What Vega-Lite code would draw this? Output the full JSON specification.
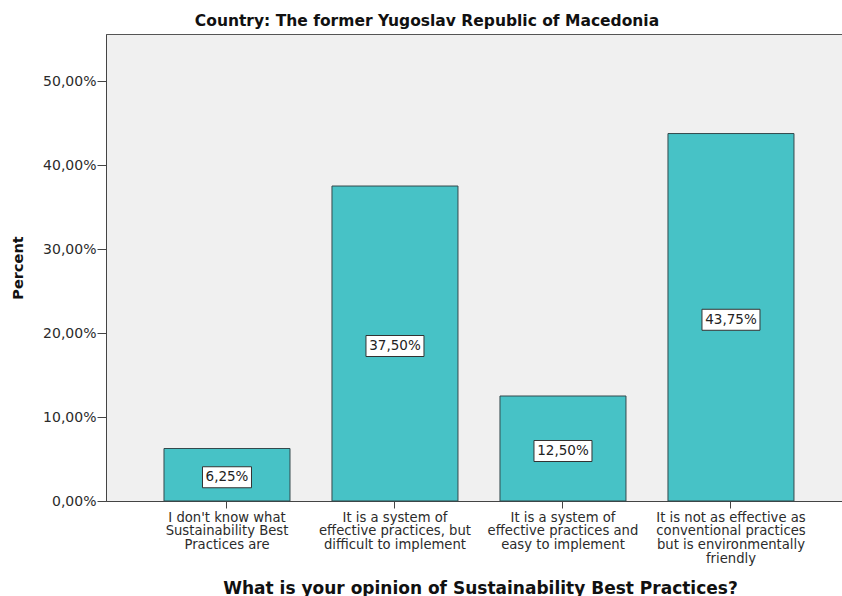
{
  "$schema": "https://vega.github.io/schema/vega-lite/v6.json",
  "autosize": {"type": "none"},
  "padding": {"left": 106, "top": 34, "right": 0, "bottom": 95},
  "width": 736,
  "height": 467,
  "background": "white",
  "config": {
    "locale": {"number": {"decimal": ",", "thousands": ".", "grouping": [3], "currency": ["", " €"]}},
    "font": "DejaVu Sans",
    "view": {"fill": "#F0F0F0", "stroke": "#555555", "strokeWidth": 1},
    "axis": {
      "domainColor": "#444444",
      "tickColor": "#444444",
      "labelColor": "#2b2b2b",
      "labelFont": "DejaVu Sans",
      "labelFontSize": 13.2,
      "titleFont": "DejaVu Sans",
      "titleFontWeight": "bold",
      "titleColor": "#111111",
      "grid": false
    }
  },
  "title": {
    "text": "Country: The former Yugoslav Republic of Macedonia",
    "font": "DejaVu Sans",
    "fontSize": 15.5,
    "fontWeight": "bold",
    "color": "#111111",
    "anchor": "middle",
    "baseline": "alphabetic",
    "offset": 7,
    "dy": 14,
    "dx": -47
  },
  "data": {
    "values": [
      {"answer": "I don't know what\nSustainability Best\nPractices are", "pct": 0.0625},
      {"answer": "It is a system of\neffective practices, but\ndifficult to implement", "pct": 0.375},
      {"answer": "It is a system of\neffective practices and\neasy to implement", "pct": 0.125},
      {"answer": "It is not as effective as\nconventional practices\nbut is environmentally\nfriendly", "pct": 0.4375}
    ]
  },
  "encoding": {
    "x": {
      "field": "answer",
      "type": "nominal",
      "sort": null,
      "scale": {"paddingInner": 0.25, "paddingOuter": 0.3155, "align": 0.547},
      "axis": {
        "title": "What is your opinion of Sustainability Best Practices?",
        "titleFontSize": 17,
        "titleBaseline": "alphabetic",
        "titleY": 92,
        "titleX": 374,
        "labelAngle": 0,
        "labelAlign": "center",
        "labelBaseline": "top",
        "labelExpr": "split(datum.label, '\\n')",
        "labelLineHeight": 13.8,
        "labelLimit": 0,
        "labelPadding": 3,
        "tickSize": 7,
        "domain": true
      }
    }
  },
  "layer": [
    {
      "mark": {"type": "bar", "fill": "#47C2C6", "stroke": "#34494C", "strokeWidth": 1},
      "encoding": {
        "y": {
          "field": "pct",
          "type": "quantitative",
          "scale": {"domain": [0, 0.556], "nice": false, "zero": true},
          "axis": {
            "title": "Percent",
            "titleFontSize": 14.5,
            "titleAngle": -90,
            "titleAlign": "center",
            "titleBaseline": "middle",
            "titleX": -88,
            "titleY": 233.5,
            "format": ".2%",
            "values": [0, 0.1, 0.2, 0.3, 0.4, 0.5],
            "labelFontSize": 14,
            "tickSize": 9,
            "labelPadding": 1
          }
        }
      }
    },
    {
      "encoding": {
        "y": {
          "field": "pct",
          "type": "quantitative",
          "scale": {"domain": [0, 1.112], "nice": false, "zero": true},
          "axis": null
        }
      },
      "layer": [
        {
          "transform": [{"filter": "datum.pct >= 0.1"}],
          "mark": {"type": "rect", "fill": "white", "stroke": "#333333", "strokeWidth": 1, "width": 58, "yOffset": -8, "y2Offset": 13},
          "encoding": {"y2": {"field": "pct"}}
        },
        {
          "transform": [{"filter": "datum.pct < 0.1"}],
          "mark": {"type": "rect", "fill": "white", "stroke": "#333333", "strokeWidth": 1, "width": 49, "yOffset": -8, "y2Offset": 13},
          "encoding": {"y2": {"field": "pct"}}
        },
        {
          "mark": {"type": "text", "font": "DejaVu Sans", "fontSize": 13.5, "color": "#222222", "baseline": "middle", "align": "center", "dy": 2.5},
          "encoding": {"text": {"field": "pct", "type": "quantitative", "format": ".2%"}}
        }
      ]
    }
  ],
  "resolve": {"scale": {"y": "independent"}}
}
